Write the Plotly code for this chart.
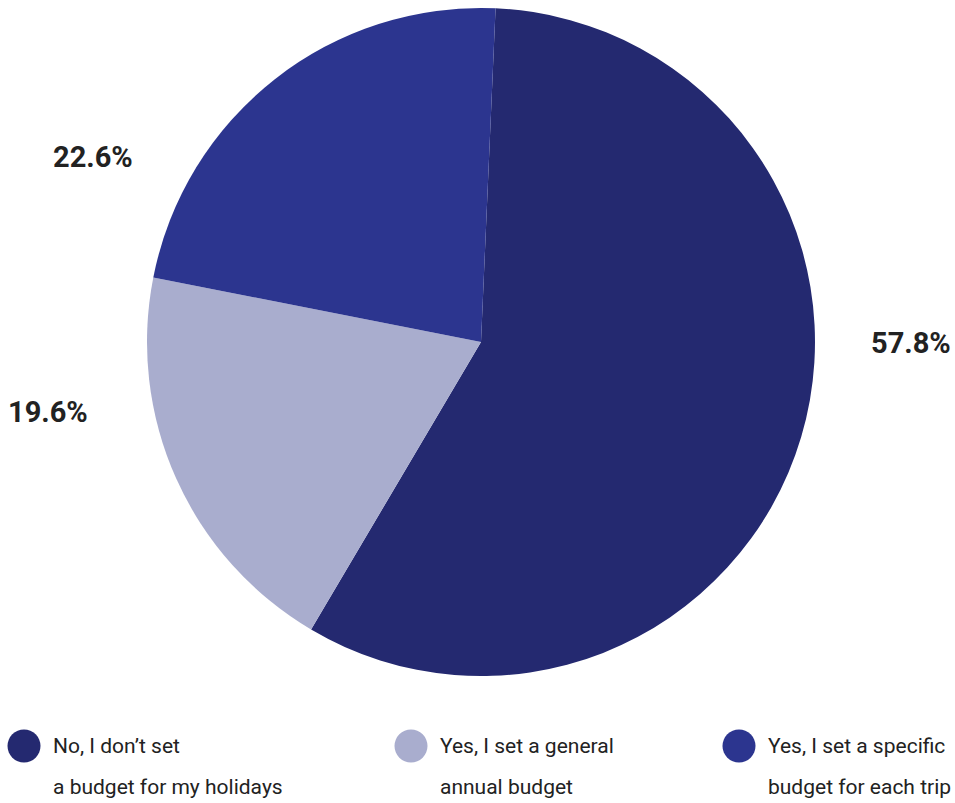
import plotly.graph_objects as go

categories = ["No, I don’t set a budget for my holidays",
              "Yes, I set a general annual budget",
              "Yes, I set a specific budget for each trip"]
legend_lines = [["No, I don’t set", "a budget for my holidays"],
                ["Yes, I set a general", "annual budget"],
                ["Yes, I set a specific", "budget for each trip"]]
values = [57.8, 19.6, 22.6]
colors = ["#242970", "#A9ADCE", "#2C358F"]

W, H = 955, 803
cx, cy, R = 481, 342, 334

fig = go.Figure()
fig.add_trace(go.Pie(
    labels=categories, values=values, sort=False, direction="clockwise",
    rotation=2.5, marker=dict(colors=colors, line=dict(width=0)),
    textinfo="none", hoverinfo="label+percent", showlegend=False,
    domain=dict(x=[(cx - R) / W, (cx + R) / W], y=[1 - (cy + R) / H, 1 - (cy - R) / H]),
))

# outside value labels
label_pos = [(911, 343), (48, 412), (93, 157)]
annotations = []
for v, (px, py) in zip(values, label_pos):
    annotations.append(dict(
        x=px / W, y=1 - py / H, xref="paper", yref="paper", showarrow=False,
        text=f"{v:.1f}%", xanchor="center", yanchor="middle",
        font=dict(family="Roboto", size=29, color="#222222", weight="bold")))

# custom legend
shapes = []
legend_x = [24, 411, 739]
text_x = [51, 438, 766]
r = 16.5
for c, lx, tx, lines in zip(colors, legend_x, text_x, legend_lines):
    shapes.append(dict(type="circle", xref="paper", yref="paper",
                       x0=(lx - r) / W, x1=(lx + r) / W,
                       y0=1 - (746 + r) / H, y1=1 - (746 - r) / H,
                       fillcolor=c, line=dict(width=0)))
    for i, ln in enumerate(lines):
        annotations.append(dict(
            x=tx / W, y=1 - (746 + 41 * i) / H, xref="paper", yref="paper",
            showarrow=False, text=ln, xanchor="left", yanchor="middle",
            font=dict(family="Roboto", size=21, color="#222222")))

fig.update_layout(
    width=W, height=H, margin=dict(l=0, r=0, t=0, b=0),
    paper_bgcolor="white", plot_bgcolor="white",
    annotations=annotations, shapes=shapes,
)
fig.write_html("out.html")
